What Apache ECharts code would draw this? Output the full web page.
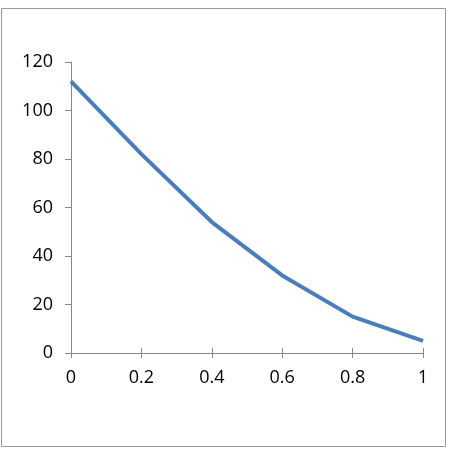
<!DOCTYPE html>
<html>
<head>
<meta charset="utf-8">
<script src="https://cdn.jsdelivr.net/npm/echarts@6/dist/echarts.min.js"></script>
<style>
html, body { margin: 0; padding: 0; background: #fff; }
#chart { width: 453px; height: 453px; }
</style>
</head>
<body>
<div id="chart"></div>
<script>
const xValues = [0, 0.2, 0.4, 0.6, 0.8, 1];
const yValues = [112, 82, 54, 32, 15, 5];

const chart = echarts.init(document.getElementById('chart'));
const axisGray = '#888888';
const font = 'Open Sans, Liberation Sans, sans-serif';

chart.setOption({
	animation: false,
	graphic: [{
		type: 'rect',
		shape: { x: 1.5, y: 8.5, width: 444, height: 438 },
		style: { fill: 'none', stroke: '#999999', lineWidth: 1 },
	}],
	grid: { left: 71, right: 30, top: 62, bottom: 100 },
	xAxis: [{
		type: 'value',
		min: 0,
		max: 1,
		interval: 0.2,
		splitLine: { show: false },
		axisLine: { lineStyle: { color: axisGray, width: 1 } },
		axisTick: { length: 5, lineStyle: { color: axisGray } },
		axisLabel: { color: '#000', fontSize: 18, fontFamily: font, margin: 16 },
	}, {
		type: 'value',
		position: 'bottom',
		min: 0,
		max: 1,
		interval: 0.2,
		splitLine: { show: false },
		axisLine: { show: false },
		axisTick: { inside: true, length: 5, lineStyle: { color: axisGray } },
		axisLabel: { show: false },
	}],
	yAxis: {
		type: 'value',
		min: 0,
		max: 120,
		interval: 20,
		splitLine: { show: false },
		axisLine: { show: true, lineStyle: { color: axisGray, width: 1 } },
		axisTick: { show: true, length: 6, lineStyle: { color: axisGray } },
		axisLabel: { color: '#000', fontSize: 18, fontFamily: font, margin: 18 },
	},
	series: [{
		type: 'line',
		data: xValues.map((x, i) => [x, yValues[i]]),
		symbol: 'none',
		lineStyle: { color: '#4a7ebb', width: 4 },
	}],
});
</script>
</body>
</html>
